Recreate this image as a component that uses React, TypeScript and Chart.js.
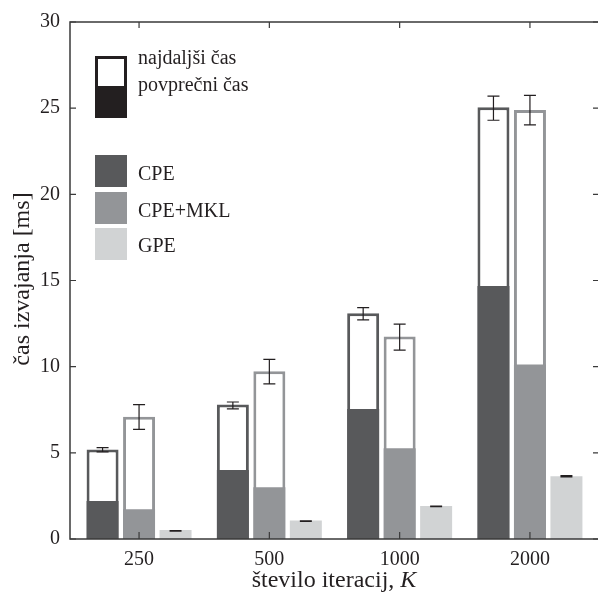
import React, { useEffect, useRef } from 'react';
import { Chart, registerables } from 'chart.js';

Chart.register(...registerables);

// ---- data ----
const categories = ['250', '500', '1000', '2000'];
const seriesNames = ['CPE', 'CPE+MKL', 'GPE'];
const legendTypes = ['najdaljši čas', 'povprečni čas'];
const yTicks = [0, 5, 10, 15, 20, 25, 30];

const cpeAvg = [2.2, 4.0, 7.55, 14.68];
const cpeMax = [5.2, 7.8, 13.1, 25.05];
const cpeErrLow = [5.05, 7.55, 12.72, 24.3];
const cpeErrHigh = [5.3, 7.95, 13.43, 25.7];

const mklAvg = [1.73, 3.0, 5.26, 10.13];
const mklMax = [7.1, 9.73, 11.75, 24.9];
const mklErrLow = [6.36, 9.0, 10.96, 24.03];
const mklErrHigh = [7.8, 10.42, 12.47, 25.74];

const gpeAvg = [0.52, 1.08, 1.92, 3.64];
const gpeErrLow = [0.45, 1.02, 1.87, 3.6];
const gpeErrHigh = [0.49, 1.06, 1.91, 3.68];

const axisTitleY = 'čas izvajanja [ms]';
const axisTitleX = 'število iteracij, ';
const axisTitleXVar = 'K';

// ---- styles ----
const FONT = "'Liberation Serif', 'Times New Roman', serif";
const TEXT = '#231f20';
const FRAME = '#3a3a3a';
const C_CPE = '#58595b';
const C_MKL = '#939598';
const C_GPE = '#d1d3d4';
const C_LEG = '#231f20';

const pts = (arr: number[]) => arr.map((v, i) => ({ x: i + 1, y: v }));

const CAT_PCT = 0.84;
const BAR_PCT = 0.877;

export default function App() {
  const ref = useRef<HTMLCanvasElement | null>(null);

  useEffect(() => {
    if (!ref.current) return;

    const errorBars = {
      id: 'errorBars',
      afterDatasetsDraw(chart: any) {
        const ctx = chart.ctx;
        const ys = chart.scales.y;
        const groups = [
          { ds: 3, lo: cpeErrLow, hi: cpeErrHigh },
          { ds: 4, lo: mklErrLow, hi: mklErrHigh },
          { ds: 2, lo: gpeErrLow, hi: gpeErrHigh },
        ];
        ctx.save();
        ctx.strokeStyle = TEXT;
        ctx.lineWidth = 1.2;
        for (const g of groups) {
          const meta = chart.getDatasetMeta(g.ds);
          meta.data.forEach((bar: any, i: number) => {
            const cx = bar.x;
            const yl = ys.getPixelForValue(g.lo[i]);
            const yh = ys.getPixelForValue(g.hi[i]);
            ctx.beginPath();
            ctx.moveTo(cx, yh);
            ctx.lineTo(cx, yl);
            ctx.moveTo(cx - 6, yh);
            ctx.lineTo(cx + 6, yh);
            ctx.moveTo(cx - 6, yl);
            ctx.lineTo(cx + 6, yl);
            ctx.stroke();
          });
        }
        ctx.restore();
      },
    };

    const decor = {
      id: 'decor',
      afterDraw(chart: any) {
        const ctx = chart.ctx;
        const { left, right, top, bottom } = chart.chartArea;
        const xs = chart.scales.x;
        const ys = chart.scales.y;
        ctx.save();
        // frame
        ctx.strokeStyle = FRAME;
        ctx.lineWidth = 1.5;
        ctx.beginPath();
        ctx.moveTo(left, top);
        ctx.lineTo(right, top);
        ctx.lineTo(right, bottom);
        ctx.lineTo(left, bottom);
        ctx.closePath();
        ctx.stroke();
        // inward ticks
        ctx.lineWidth = 1.2;
        ctx.beginPath();
        for (const v of yTicks) {
          const py = ys.getPixelForValue(v);
          ctx.moveTo(left, py);
          ctx.lineTo(left + 6, py);
          ctx.moveTo(right, py);
          ctx.lineTo(right - 6, py);
        }
        categories.forEach((_, i) => {
          const px = xs.getPixelForValue(i + 1);
          ctx.moveTo(px, bottom);
          ctx.lineTo(px, bottom - 7);
          ctx.moveTo(px, top);
          ctx.lineTo(px, top + 6);
        });
        ctx.stroke();

        // axis titles
        ctx.fillStyle = TEXT;
        ctx.font = `24px ${FONT}`;
        ctx.save();
        ctx.translate(29, 279);
        ctx.rotate(-Math.PI / 2);
        ctx.textAlign = 'center';
        ctx.textBaseline = 'alphabetic';
        ctx.fillText(axisTitleY, 0, 0);
        ctx.restore();

        ctx.textBaseline = 'alphabetic';
        ctx.textAlign = 'left';
        ctx.font = `24px ${FONT}`;
        const w1 = ctx.measureText(axisTitleX).width;
        ctx.font = `italic 24px ${FONT}`;
        const w2 = ctx.measureText(axisTitleXVar).width;
        const sx = 334 - (w1 + w2) / 2;
        ctx.font = `24px ${FONT}`;
        ctx.fillText(axisTitleX, sx, 587);
        ctx.font = `italic 24px ${FONT}`;
        ctx.fillText(axisTitleXVar, sx + w1, 587);

        // legend
        const bx = 95, bw = 32;
        ctx.fillStyle = '#ffffff';
        ctx.fillRect(bx, 56, bw, 30);
        ctx.fillStyle = C_LEG;
        ctx.fillRect(bx, 86, bw, 32);
        ctx.strokeStyle = C_LEG;
        ctx.lineWidth = 3;
        ctx.strokeRect(bx + 1.5, 57.5, bw - 3, 59);

        const boxes = [
          { c: C_CPE, y: 155 },
          { c: C_MKL, y: 192 },
          { c: C_GPE, y: 228 },
        ];
        boxes.forEach((b) => {
          ctx.fillStyle = b.c;
          ctx.fillRect(bx, b.y, bw, 32);
        });

        ctx.fillStyle = TEXT;
        ctx.font = `20px ${FONT}`;
        ctx.textAlign = 'left';
        ctx.fillText(legendTypes[0], 138, 63.5);
        ctx.fillText(legendTypes[1], 138, 90.5);
        ctx.fillText(seriesNames[0], 138, 180);
        ctx.fillText(seriesNames[1], 138, 216.5);
        ctx.fillText(seriesNames[2], 138, 251.5);
        ctx.restore();
      },
    };

    const common = { categoryPercentage: CAT_PCT, barPercentage: BAR_PCT };

    const chart = new Chart(ref.current, {
      type: 'bar',
      data: {
        datasets: [
          { label: seriesNames[0], data: pts(cpeAvg), stack: 'cpe', backgroundColor: C_CPE, borderWidth: 0, ...common },
          { label: seriesNames[1], data: pts(mklAvg), stack: 'mkl', backgroundColor: C_MKL, borderWidth: 0, ...common },
          { label: seriesNames[2], data: pts(gpeAvg), stack: 'gpe', backgroundColor: C_GPE, borderWidth: 0, ...common },
          { label: seriesNames[0] + ' max', data: pts(cpeMax), stack: 'cpe', backgroundColor: '#ffffff', borderColor: C_CPE, borderWidth: 3, ...common },
          { label: seriesNames[1] + ' max', data: pts(mklMax), stack: 'mkl', backgroundColor: '#ffffff', borderColor: C_MKL, borderWidth: 3, ...common },
        ] as any,
      },
      options: {
        responsive: false,
        animation: false,
        layout: { padding: { top: 20, right: 5, left: 0, bottom: 0 } },
        plugins: {
          legend: { display: false },
          tooltip: { enabled: false },
        },
        scales: {
          x: {
            type: 'linear',
            min: 0.47,
            max: 4.53,
            offset: false,
            grid: { display: false, offset: false, drawTicks: false },
            border: { display: false },
            afterBuildTicks: (s: any) => {
              s.ticks = categories.map((_, i) => ({ value: i + 1 }));
            },
            afterFit: (s: any) => {
              s.height = 55;
            },
            ticks: {
              callback: (v: any) => categories[Math.round(Number(v)) - 1] ?? '',
              font: { family: FONT, size: 20 },
              color: TEXT,
              padding: 9,
              maxRotation: 0,
              autoSkip: false,
            },
          },
          y: {
            min: 0,
            max: 30,
            stacked: false,
            grid: { display: false, drawTicks: false },
            border: { display: false },
            afterFit: (s: any) => {
              s.width = 70;
            },
            ticks: {
              stepSize: 5,
              font: { family: FONT, size: 20 },
              color: TEXT,
              padding: 10,
            },
          },
        } as any,
      },
      plugins: [errorBars, decor],
    });

    return () => chart.destroy();
  }, []);

  return (
    <div style={{ position: 'absolute', left: 0, top: 0, width: 598, height: 594, overflow: 'hidden', background: '#fff' }}>
      <canvas ref={ref} width={604} height={594} style={{ width: 604, height: 594, display: 'block' }} />
    </div>
  );
}
